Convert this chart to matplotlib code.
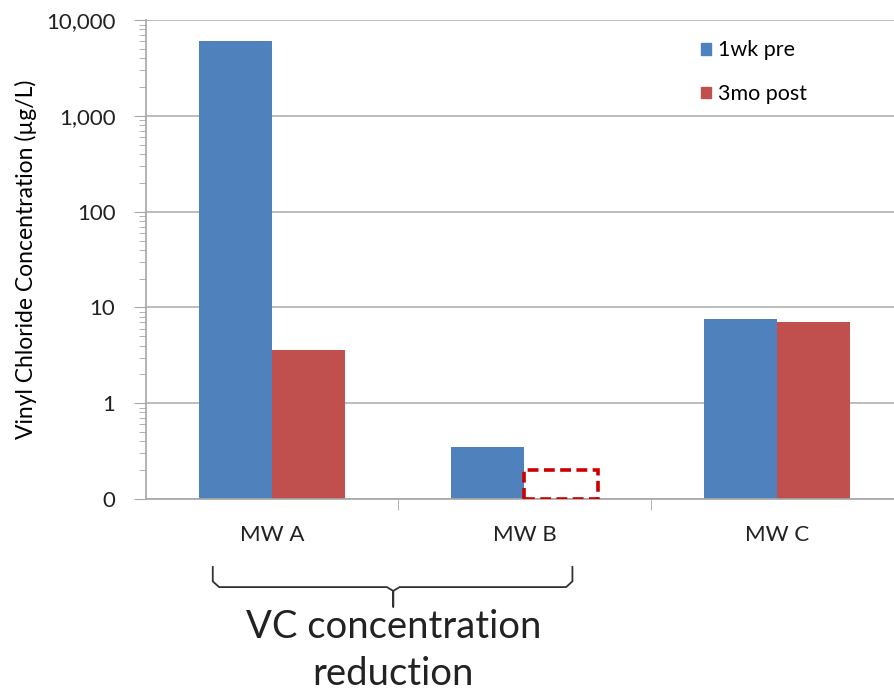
import matplotlib.pyplot as plt
import matplotlib.transforms as mtransforms
from matplotlib.patches import Patch
import numpy as np

plt.rcParams['font.family'] = ['Lato', 'DejaVu Sans']

# data
wells = ["MW A", "MW B", "MW C"]
pre_1wk = [6000, 0.35, 7.6]
post_3mo = [3.6, 0.2, 7.0]   # MW B post is a non-detect (drawn dashed)
nondetect = [False, True, False]
ytick_vals = [0.1, 1, 10, 100, 1000, 10000]
ytick_labels = ["0", "1", "10", "100", "1,000", "10,000"]

blue = "#4F81BD"
red = "#C0504D"
grey = "#A6A6A6"

fig = plt.figure(figsize=(8.95, 6.94), dpi=100)
ax = fig.add_axes([0.163, 0.281, 0.846, 0.690])

x = np.arange(len(wells))
w = 0.29
bottom = 0.1
ax.bar(x - w / 2, np.array(pre_1wk) - bottom, w, bottom=bottom, color=blue)
for xi, v, nd in zip(x, post_3mo, nondetect):
    if nd:
        ax.bar(xi + w / 2, v - bottom, w, bottom=bottom, facecolor="none",
               edgecolor="#CC0000", linestyle=(0, (3, 1.5)), linewidth=2.6, zorder=3)
    else:
        ax.bar(xi + w / 2, v - bottom, w, bottom=bottom, color=red)

ax.set_yscale("log")
ax.set_ylim(0.1, 10000)
ax.set_xlim(-0.5, 2.5)
ax.set_yticks(ytick_vals)
ax.set_yticklabels(ytick_labels, fontsize=16, color="#222222")
ax.yaxis.set_minor_locator(plt.LogLocator(base=10, subs=np.arange(2, 10)))
ax.yaxis.set_minor_formatter(plt.NullFormatter())
ax.tick_params(axis="y", which="major", length=9, color=grey, pad=13)
ax.tick_params(axis="y", which="minor", length=5, color=grey)

ax.set_xticks(x)
ax.set_xticklabels(wells, fontsize=16, color="#222222")
ax.set_xticks([0.5, 1.5], minor=True)
ax.tick_params(axis="x", which="major", length=0, pad=19)
ax.tick_params(axis="x", which="minor", length=8, color=grey)

ax.grid(True, axis="y", which="major", color="#B0B0B0", linewidth=1.2)
ax.set_axisbelow(True)
for s in ["top", "right"]:
    ax.spines[s].set_visible(False)
ax.spines["left"].set_color(grey)
ax.spines["bottom"].set_color(grey)
ax.spines["left"].set_linewidth(1.2)
ax.spines["bottom"].set_linewidth(1.2)

ax.set_ylabel("Vinyl Chloride Concentration (µg/L)", fontsize=16.5, labelpad=6)

handles = [Patch(color=blue, label="1wk pre"), Patch(color=red, label="3mo post")]
ax.legend(handles=handles, loc="upper left", bbox_to_anchor=(0.707, 0.998),
          frameon=False, fontsize=15.5, labelspacing=1.1, handlelength=0.47,
          handleheight=0.47, handletextpad=0.35)

# curly brace under MW A and MW B
trans = mtransforms.blended_transform_factory(ax.transData, ax.transAxes)
xl, xr, xm = -0.235, 1.19, 0.48
yt, yb, ytip = -0.142, -0.184, -0.225
r = 0.025
bx = [xl, xl, xl + r, xm - r, xm, xm, xm, xm + r, xr - r, xr, xr]
by = [yt, yb + 0.012, yb, yb, yb - 0.008, ytip, yb - 0.008, yb, yb, yb + 0.012, yt]
ax.plot(bx, by, transform=trans, color="#333333", linewidth=1.3, clip_on=False)

ax.text(xm, -0.230, "VC concentration\nreduction", transform=trans, ha="center",
        va="top", fontsize=27.5, color="#222222", linespacing=1.38)

fig.savefig("out.png", dpi=100)
